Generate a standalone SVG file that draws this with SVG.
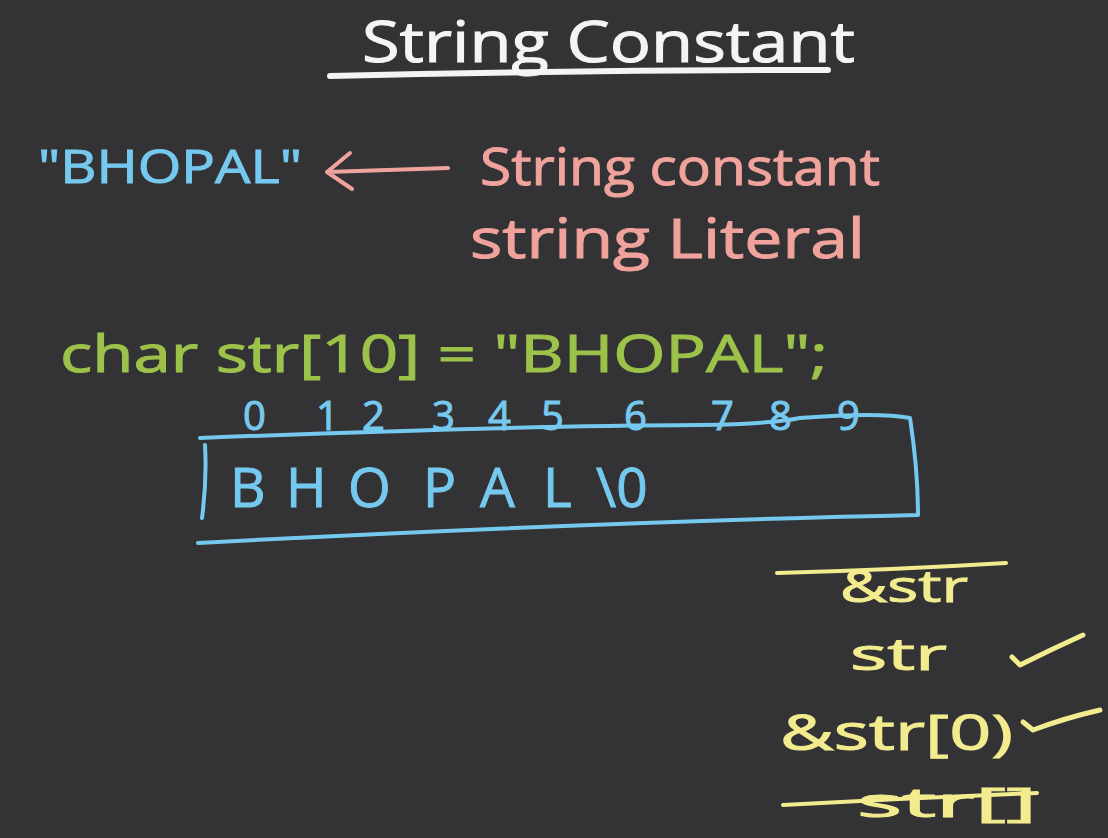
<svg xmlns="http://www.w3.org/2000/svg" width="1108" height="838" viewBox="0 0 1108 838">
<style>
text{font-family:"Open Sans","Liberation Sans",sans-serif;font-weight:normal;stroke-width:1}
.w{fill:#f4f4f4;stroke:#f4f4f4}.b{fill:#76c9ee;stroke:#76c9ee}.p{fill:#f0a39c;stroke:#f0a39c}.g{fill:#9cc24a;stroke:#9cc24a}.y{fill:#f2ec8e;stroke:#f2ec8e}
.s{fill:none;stroke-linecap:round;stroke-linejoin:round}
</style>
<rect width="1108" height="838" fill="#333235"/>
<g id="title">
<text class="w" x="362" y="62" font-size="56" textLength="493" lengthAdjust="spacingAndGlyphs">String Constant</text>
<path class="s" d="M330,76 Q580,70 828,70" stroke="#f4f4f4" stroke-width="6"/>
</g>
<g id="bhopal-literal">
<text class="b" x="38" y="183" font-size="46" textLength="264" lengthAdjust="spacingAndGlyphs">"BHOPAL"</text>
</g>
<g id="labels">
<text class="p" x="480" y="185" font-size="52" textLength="400" lengthAdjust="spacingAndGlyphs">String constant</text>
<text class="p" x="470" y="258" font-size="55" textLength="395" lengthAdjust="spacingAndGlyphs">string Literal</text>
</g>
<g id="connectors">
<path class="s" d="M448,168 L327,172 M350,153 L327,172 L352,189" stroke="#f0a39c" stroke-width="4"/>
</g>
<g id="declaration">
<text class="g" x="60" y="372" font-size="52" textLength="768" lengthAdjust="spacingAndGlyphs">char str[10] = "BHOPAL";</text>
</g>
<g id="array">
<g font-size="40" class="b">
<text x="243" y="430">0</text><text x="316" y="430">1</text><text x="362" y="430">2</text><text x="432" y="430">3</text><text x="488" y="430">4</text><text x="541" y="430">5</text><text x="624" y="430">6</text><text x="711" y="430">7</text><text x="769" y="430">8</text><text x="837" y="430">9</text>
</g>
<path class="s" d="M200,438 Q500,426 700,425 Q770,424 800,418 Q880,412 910,418 Q918,470 918,515 Q600,522 198,543 M205,445 Q207,480 202,518" stroke="#76c9ee" stroke-width="4"/>
<g font-size="55" class="b">
<text x="230" y="507">B</text><text x="286" y="507">H</text><text x="348" y="507">O</text><text x="423" y="507">P</text><text x="480" y="507">A</text><text x="543" y="507">L</text><text x="596" y="507">\0</text>
</g>
</g>
<g id="options">
<text class="y" x="840" y="602" font-size="44" textLength="128" lengthAdjust="spacingAndGlyphs">&amp;str</text>
<path class="s" d="M777,573 Q890,570 1006,563" stroke="#f2ec8e" stroke-width="4"/>
<text class="y" x="850" y="670" font-size="44" textLength="97" lengthAdjust="spacingAndGlyphs">str</text>
<path class="s" d="M1012,657 L1020,665 Q1050,650 1083,635" stroke="#f2ec8e" stroke-width="5"/>
<text class="y" x="780" y="750" font-size="50" textLength="233" lengthAdjust="spacingAndGlyphs">&amp;str[0)</text>
<path class="s" d="M1023,722 L1033,730 Q1065,718 1100,710" stroke="#f2ec8e" stroke-width="5"/>
<text class="y" x="857" y="817" font-size="40" textLength="180" lengthAdjust="spacingAndGlyphs">str[]</text>
<path class="s" d="M783,805 Q910,798 1037,793" stroke="#f2ec8e" stroke-width="4"/>
</g>
</svg>
